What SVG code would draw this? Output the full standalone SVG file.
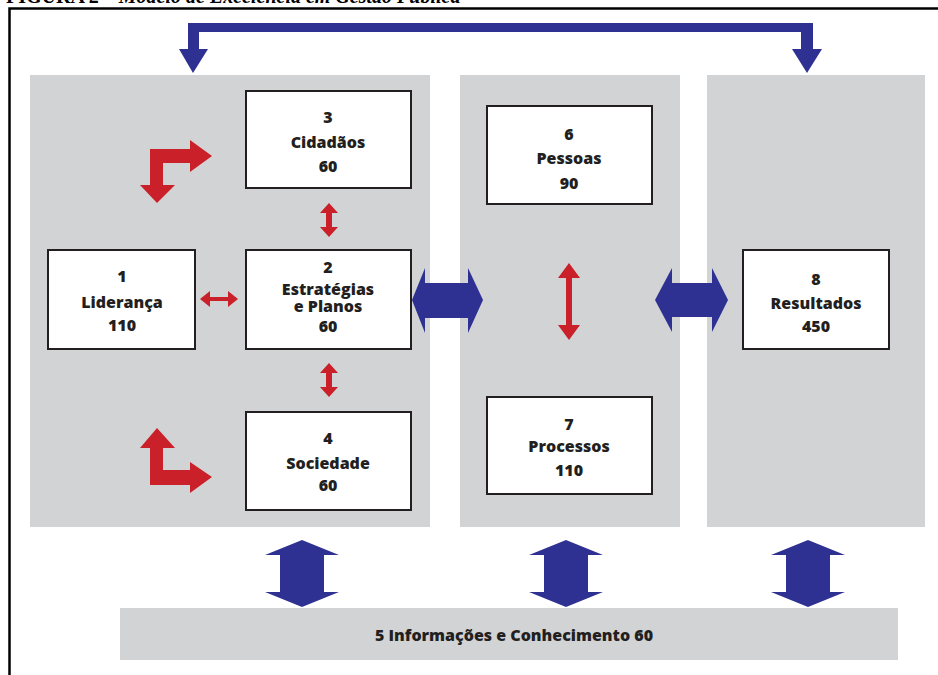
<svg xmlns="http://www.w3.org/2000/svg" width="938" height="675" viewBox="0 0 938 675">
<style>
.panel{fill:#d1d3d4}
.box{fill:#fff;stroke:#231f20;stroke-width:2}
.t{font-family:"Open Sans","Noto Sans",sans-serif;font-weight:800;font-size:16px;fill:#231f20;text-anchor:middle}
.t2{font-size:15px}
.blue{fill:#2e3192}
.red{fill:#c9202a}
.title{font-family:"Liberation Serif",serif;font-weight:bold;font-size:20px;fill:#000}
</style>
<rect width="938" height="675" fill="#fff"/>
<text class="title" x="6" y="3">FIGURA 2 – <tspan font-style="italic">Modelo de Excelência em Gestão Pública</tspan></text>
<path d="M9.5,675 V8.5 H938" fill="none" stroke="#000" stroke-width="2.5"/>

<g id="panels">
<rect class="panel" x="30" y="75" width="400" height="452"/>
<rect class="panel" x="460" y="75" width="220" height="452"/>
<rect class="panel" x="707" y="75" width="218" height="452"/>
</g>

<g id="connectors">
<polygon class="blue" points="188,23 813,23 813,49 822,49 807,73 792,49 801,49 801,32 199,32 199,49 208,49 193,73 179,49 188,49"/>
<polygon class="blue" points="412,300 425,268 425,283 468,283 468,268 483,300 468,333 468,318 425,318 425,333"/>
<polygon class="blue" points="655,300 672,268 672,283 712,283 712,268 728,300 712,332 712,317 672,317 672,332"/>
<polygon class="blue" points="302,540 339,555 324,555 324,592 339,592 302,607 265,592 280,592 280,555 265,555"/>
<polygon class="blue" points="566,540 603,555 588,555 588,592 603,592 566,607 529,592 544,592 544,555 529,555"/>
<polygon class="blue" points="808,540 845,555 830,555 830,592 845,592 808,607 771,592 786,592 786,555 771,555"/>
<polygon class="red" points="329,203 338,213 332,213 332,227 338,227 329,237 320,227 326,227 326,213 320,213"/>
<polygon class="red" points="329,363 338,373 332,373 332,387 338,387 329,397 320,387 326,387 326,373 320,373"/>
<polygon class="red" points="200,299 210,291 210,297 228,297 228,291 238,299 228,307 228,301 210,301 210,307"/>
<polygon class="red" points="569,263 580,278 572,278 572,325 580,325 569,340 558,325 566,325 566,278 558,278"/>
<polygon class="red" points="150,149 190,149 190,140 212,156 190,172 190,163 163,163 163,185 175,185 157,203 140,185 150,185"/>
<polygon class="red" points="157,428 175,448 163,448 163,470 190,470 190,462 212,477 190,493 190,485 150,485 150,448 140,448"/>
</g>

<g id="n3"><rect class="box" x="246" y="91" width="165" height="97"/>
<text class="t" x="328" y="123">3</text><text class="t" x="328" y="148">Cidadãos</text><text class="t" x="328" y="172">60</text></g>
<g id="n1"><rect class="box" x="48" y="250" width="147" height="99"/>
<text class="t" x="122" y="282">1</text><text class="t" x="122" y="308">Liderança</text><text class="t" x="122" y="331">110</text></g>
<g id="n2"><rect class="box" x="246" y="250" width="165" height="99"/>
<text class="t" x="328" y="273">2</text><text class="t" x="328" y="295">Estratégias</text><text class="t" x="328" y="312">e  Planos</text><text class="t" x="328" y="332">60</text></g>
<g id="n4"><rect class="box" x="246" y="412" width="165" height="98"/>
<text class="t" x="328" y="444">4</text><text class="t" x="328" y="469">Sociedade</text><text class="t" x="328" y="491">60</text></g>
<g id="n6"><rect class="box" x="487" y="106" width="165" height="98"/>
<text class="t" x="569" y="140">6</text><text class="t" x="569" y="164">Pessoas</text><text class="t" x="569" y="189">90</text></g>
<g id="n7"><rect class="box" x="487" y="397" width="165" height="97"/>
<text class="t" x="569" y="430">7</text><text class="t" x="569" y="452">Processos</text><text class="t" x="569" y="476">110</text></g>
<g id="n8"><rect class="box" x="743" y="250" width="146" height="99"/>
<text class="t" x="816" y="285">8</text><text class="t" x="816" y="309">Resultados</text><text class="t" x="816" y="332">450</text></g>
<g id="n5"><rect class="panel" x="120" y="608" width="778" height="52"/>
<text class="t" x="514" y="641">5 Informações e Conhecimento 60</text></g>
</svg>
